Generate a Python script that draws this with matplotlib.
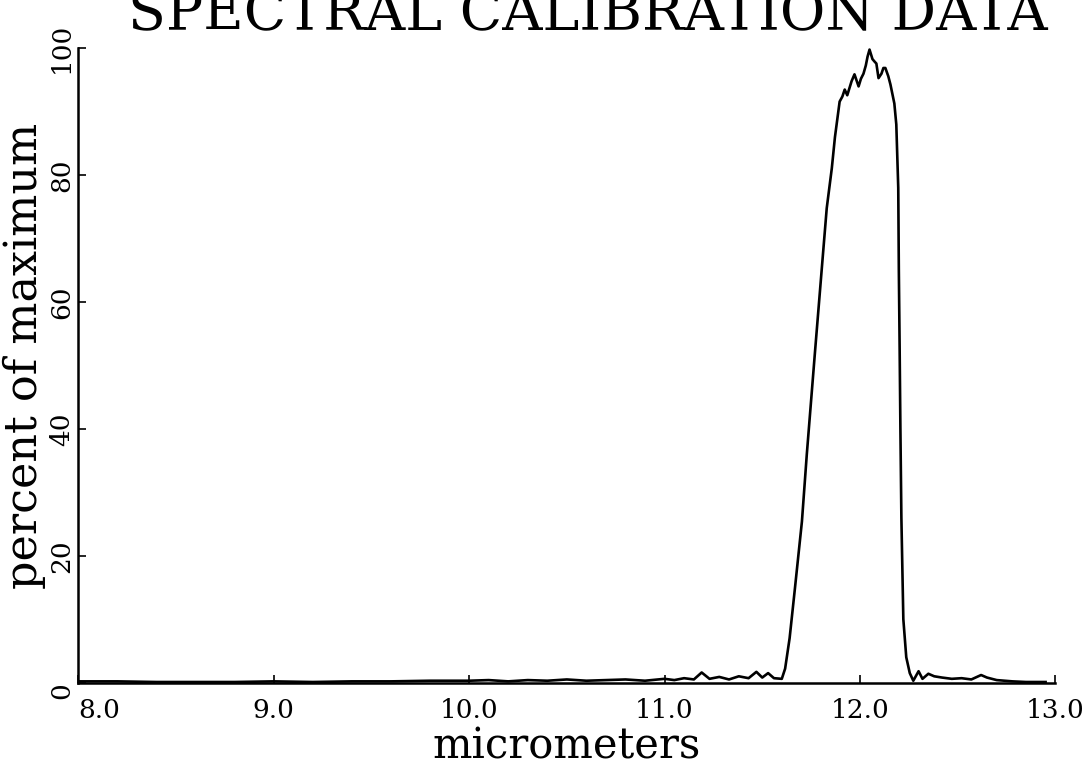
import numpy as np
import matplotlib
matplotlib.use('Agg')
import matplotlib.pyplot as plt

# spectral response (micrometers, percent of maximum)
wavelength = [8.00, 8.20, 8.40, 8.60, 8.80, 9.00, 9.20, 9.40, 9.60, 9.80,
              10.00, 10.10, 10.20, 10.30, 10.40, 10.50, 10.60, 10.70, 10.80, 10.90,
              11.00, 11.05, 11.10, 11.15, 11.19, 11.23, 11.28, 11.33, 11.38, 11.43,
              11.47, 11.50, 11.53, 11.56, 11.60, 11.617, 11.64, 11.667, 11.703, 11.728,
              11.769, 11.805, 11.830, 11.856, 11.872, 11.896, 11.910, 11.922, 11.935, 11.957,
              11.972, 11.993, 12.005, 12.018, 12.030, 12.039, 12.049, 12.064, 12.075, 12.084,
              12.095, 12.110, 12.120, 12.130, 12.145, 12.156, 12.176, 12.186, 12.196, 12.199,
              12.203, 12.207, 12.212, 12.222, 12.237, 12.255, 12.273, 12.300, 12.320, 12.350,
              12.380, 12.420, 12.470, 12.520, 12.570, 12.620, 12.650, 12.700, 12.780, 12.850,
              12.950]
percent = [0.2, 0.2, 0.1, 0.1, 0.1, 0.2, 0.1, 0.2, 0.2, 0.3,
           0.3, 0.4, 0.2, 0.4, 0.3, 0.5, 0.3, 0.4, 0.5, 0.3,
           0.6, 0.4, 0.7, 0.5, 1.6, 0.6, 0.9, 0.5, 1.0, 0.7,
           1.7, 0.8, 1.5, 0.7, 0.6, 2.2, 7.0, 14.8, 25.4, 36.0,
           51.8, 65.4, 74.8, 81.1, 86.0, 91.6, 92.4, 93.5, 92.6, 94.8,
           95.9, 94.0, 95.2, 96.0, 97.3, 98.7, 99.8, 98.3, 97.9, 97.6,
           95.3, 96.0, 96.9, 96.9, 95.6, 94.3, 91.3, 88.0, 78.0, 65.0,
           53.0, 40.0, 26.0, 10.0, 4.0, 1.5, 0.3, 1.8, 0.6, 1.4,
           1.0, 0.8, 0.6, 0.7, 0.5, 1.2, 0.8, 0.4, 0.2, 0.1,
           0.1]

x_ticks = [8.0, 9.0, 10.0, 11.0, 12.0, 13.0]
y_ticks = [0, 20, 40, 60, 80, 100]

plt.rcParams['font.family'] = ['DejaVu Serif']

fig = plt.figure(figsize=(10.88, 7.67), dpi=100)
ax = fig.add_axes([0.072, 0.110, 0.898, 0.827])

ax.plot(wavelength, percent, color='black', lw=1.9)
ax.set_xlim(8.0, 13.0)
ax.set_ylim(0, 100)

ax.spines['top'].set_visible(False)
ax.spines['right'].set_visible(False)
ax.spines['left'].set_linewidth(1.8)
ax.spines['bottom'].set_linewidth(1.8)

ax.set_xticks(x_ticks)
ax.set_xticklabels(['%.1f' % t for t in x_ticks])
ax.set_yticks(y_ticks)
ax.set_yticklabels([str(t) for t in y_ticks], rotation=90, va='center')
ax.tick_params(direction='in', length=6, width=1.2, labelsize=19)
ax.tick_params(axis='x', pad=11)
ax.tick_params(axis='y', pad=3)
ax.get_xticklabels()[0].set_ha('left')
ax.get_yticklabels()[0].set_va('top')

ax.set_xlabel('micrometers', fontsize=30, labelpad=2)
ax.set_ylabel('percent of maximum', fontsize=32, labelpad=2)
ax.yaxis.label.set_y(0.515)

# title sits partly above the page edge, as in the scan
fig.text(0.54, 0.961, 'SPECTRAL CALIBRATION DATA', fontsize=40, ha='center', va='baseline')

plt.savefig('out.png', dpi=100)
